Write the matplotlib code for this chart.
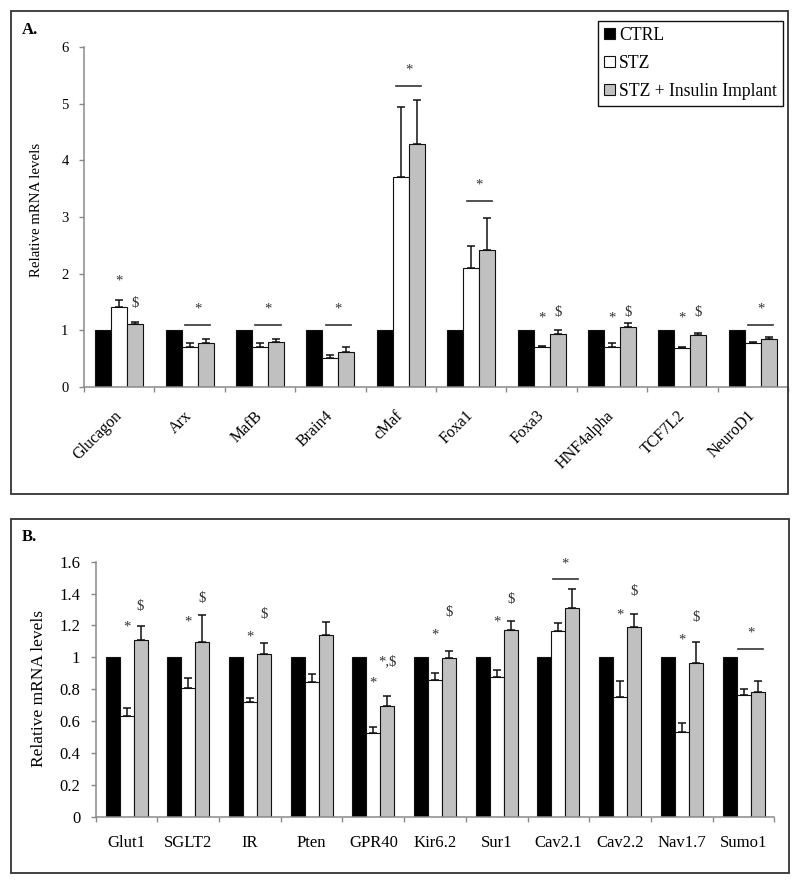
import matplotlib
matplotlib.use('Agg')
import matplotlib.pyplot as plt
import numpy as np
from matplotlib.patches import Rectangle, Patch

plt.rcParams['font.family'] = ['Liberation Serif', 'DejaVu Serif']

# ---------------- data: panel A ----------------
genes_a = ['Glucagon', 'Arx', 'MafB', 'Brain4', 'cMaf', 'Foxa1', 'Foxa3',
           'HNF4alpha', 'TCF7L2', 'NeuroD1']
ctrl_a = [1, 1, 1, 1, 1, 1, 1, 1, 1, 1]
stz_a = [1.42, 0.71, 0.70, 0.51, 3.71, 2.10, 0.71, 0.71, 0.68, 0.77]
stz_a_err = [0.11, 0.06, 0.07, 0.05, 1.23, 0.39, 0.02, 0.07, 0.02, 0.03]
ins_a = [1.12, 0.78, 0.80, 0.62, 4.29, 2.42, 0.93, 1.06, 0.91, 0.84]
ins_a_err = [0.03, 0.07, 0.05, 0.08, 0.77, 0.56, 0.07, 0.07, 0.05, 0.04]
# significance marks: (gene index, text, bar (1=STZ, 2=implant), y)
marks_a = [(0, '*', 1, 1.87), (0, '$', 2, 1.48),
           (6, '*', 1, 1.21), (6, '$', 2, 1.32),
           (7, '*', 1, 1.21), (7, '$', 2, 1.32),
           (8, '*', 1, 1.21), (8, '$', 2, 1.32)]
# bracket marks: (gene index, line y, star y)
brackets_a = [(1, 1.10, 1.37), (2, 1.10, 1.37), (3, 1.10, 1.37),
              (4, 5.31, 5.59), (5, 3.29, 3.56), (9, 1.09, 1.37)]
yticks_a = [0, 1, 2, 3, 4, 5, 6]

# ---------------- data: panel B ----------------
genes_b = ['Glut1', 'SGLT2', 'IR', 'Pten', 'GPR40', 'Kir6.2', 'Sur1',
           'Cav2.1', 'Cav2.2', 'Nav1.7', 'Sumo1']
ctrl_b = [1, 1, 1, 1, 1, 1, 1, 1, 1, 1, 1]
stz_b = [0.634, 0.805, 0.718, 0.845, 0.523, 0.858, 0.878, 1.167, 0.749, 0.529, 0.765]
stz_b_err = [0.05, 0.063, 0.025, 0.052, 0.042, 0.045, 0.042, 0.046, 0.10, 0.061, 0.036]
ins_b = [1.108, 1.098, 1.021, 1.142, 0.697, 0.994, 1.173, 1.307, 1.192, 0.966, 0.78]
ins_b_err = [0.088, 0.165, 0.069, 0.081, 0.058, 0.047, 0.055, 0.12, 0.08, 0.132, 0.069]
marks_b = [(0, '*', 1, 1.19), (0, '$', 2, 1.32),
           (1, '*', 1, 1.22), (1, '$', 2, 1.366),
           (2, '*', 1, 1.13), (2, '$', 2, 1.27),
           (4, '*', 1, 0.837), (4, '*,$', 2, 0.97),
           (5, '*', 1, 1.14), (5, '$', 2, 1.28),
           (6, '*', 1, 1.22), (6, '$', 2, 1.36),
           (8, '*', 1, 1.265), (8, '$', 2, 1.41),
           (9, '*', 1, 1.11), (9, '$', 2, 1.25)]
brackets_b = [(7, 1.491, 1.585), (10, 1.052, 1.15)]
yticks_b = [0, 0.2, 0.4, 0.6, 0.8, 1.0, 1.2, 1.4, 1.6]
yticklabels_b = ['0', '0.2', '0.4', '0.6', '0.8', '1', '1.2', '1.4', '1.6']

series_names = ['CTRL', 'STZ', 'STZ + Insulin Implant']
colors = ['#000000', '#ffffff', '#c0c0c0']

W, H = 800, 884
fig = plt.figure(figsize=(W / 100, H / 100), dpi=100)


def fx(x):
    return x / W


def fy(y):
    return 1 - y / H


def panel_box(x0, y0, x1, y1):
    r = Rectangle((fx(x0), fy(y1)), fx(x1) - fx(x0), fy(y0) - fy(y1),
                  transform=fig.transFigure, fill=False, edgecolor='#333333',
                  lw=1.3)
    fig.add_artist(r)


GRAY = '#8a8a8a'
w = 0.227


def draw(ax, genes, ctrl, stz, stz_err, ins, ins_err, marks, brackets,
         ylim, yticks, ytl, tick_fs, xl_fs, ylab_fs, mark_fs, ylab_xy,
         rotate, half):
    n = len(genes)
    x = np.arange(n)
    ax.bar(x - w, ctrl, w, color=colors[0], edgecolor='#111111', lw=0.8, zorder=2)
    ax.bar(x, stz, w, color=colors[1], edgecolor='#111111', lw=0.8, zorder=2)
    ax.bar(x + w, ins, w, color=colors[2], edgecolor='#111111', lw=0.8, zorder=2)
    zeros = [0] * n
    ax.errorbar(x, stz, yerr=[zeros, stz_err], fmt='none', ecolor='#111111',
                elinewidth=1.1, capsize=2.6, capthick=1.1, zorder=3)
    ax.errorbar(x + w, ins, yerr=[zeros, ins_err], fmt='none', ecolor='#111111',
                elinewidth=1.1, capsize=2.6, capthick=1.1, zorder=3)
    for gi, t, b, yv in marks:
        ax.text(gi + (b - 1) * w, yv, t, ha='center', va='center',
                fontsize=mark_fs, color='#333333')
    for gi, ly, sy in brackets:
        c = gi + 0.5 * w
        ax.plot([c - half, c + half], [ly, ly], color='#333333', lw=1.2)
        ax.text(c, sy, '*', ha='center', va='center', fontsize=mark_fs,
                color='#333333')
    ax.set_xlim(-0.5, n - 0.5)
    ax.set_ylim(*ylim)
    ax.set_yticks(yticks)
    ax.set_yticklabels(ytl, fontsize=tick_fs)
    ax.set_xticks(np.arange(n + 1) - 0.5)
    ax.set_xticklabels([''] * (n + 1))
    ax.set_xticks(x, minor=True)
    if rotate:
        ax.set_xticklabels(genes, minor=True, fontsize=xl_fs, rotation=45,
                           ha='right', va='center', rotation_mode='anchor')
        ax.tick_params(axis='x', which='minor', length=0, pad=19)
    else:
        ax.set_xticklabels(genes, minor=True, fontsize=xl_fs)
        ax.tick_params(axis='x', which='minor', length=0, pad=13)
    ax.tick_params(axis='x', which='major', length=3.6, width=1, color=GRAY,
                   direction='out')
    ax.tick_params(axis='y', length=3.6, width=1, color=GRAY, pad=7.5)
    for s in ['top', 'right']:
        ax.spines[s].set_visible(False)
    for s in ['left', 'bottom']:
        ax.spines[s].set_color(GRAY)
        ax.spines[s].set_linewidth(1.1)
    ax.set_ylabel('Relative mRNA levels', fontsize=ylab_fs)
    ax.yaxis.set_label_coords(*ylab_xy)
    ax.patch.set_alpha(0)


# ---- Panel A ----
panel_box(11, 11, 788, 494)
axA = fig.add_axes([fx(84), fy(387), (788 - 84) / W, (387 - 47) / H])
draw(axA, genes_a, ctrl_a, stz_a, stz_a_err, ins_a, ins_a_err, marks_a,
     brackets_a, (0, 6), yticks_a, [str(v) for v in yticks_a],
     10.5, 11.5, 10.7, 10.5, (-0.058, 0.52), True, 0.178)
fig.text(fx(22), fy(30), 'A.', fontsize=12, fontweight='bold',
         ha='left', va='center')

handles = [Patch(facecolor=c, edgecolor='#111111', lw=0.8) for c in colors]
fig.legend(handles, series_names, loc='upper right',
           bbox_to_anchor=(fx(783), fy(21)), borderaxespad=0,
           fontsize=12.7, frameon=True, fancybox=False, framealpha=1,
           edgecolor='#111111', handlelength=0.6, handleheight=0.6,
           handletextpad=0.25, labelspacing=0.62, borderpad=0.33)

# ---- Panel B ----
panel_box(11, 519, 789, 873)
axB = fig.add_axes([fx(95.7), fy(816.7), (774.4 - 95.7) / W, 255 / H])
draw(axB, genes_b, ctrl_b, stz_b, stz_b_err, ins_b, ins_b_err, marks_b,
     brackets_b, (0, 1.6), yticks_b, yticklabels_b,
     12, 12, 12.5, 10.5, (-0.072, 0.504), False, 0.198)
fig.text(fx(22), fy(537), 'B.', fontsize=12, fontweight='bold',
         ha='left', va='center')

fig.savefig('out.png', dpi=100)
